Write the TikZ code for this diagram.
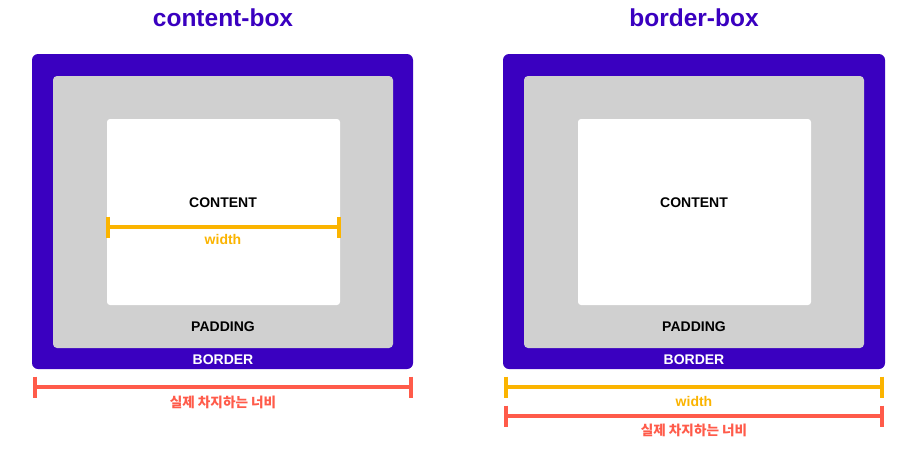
\documentclass[tikz,border=0pt]{standalone}
\usepackage{fontspec}
\setmainfont{Liberation Sans}
\newfontfamily\krfont{Noto Sans CJK KR}
\definecolor{purp}{HTML}{3A00C0}
\definecolor{padgray}{HTML}{D0D0D0}
\definecolor{wyellow}{HTML}{FBB400}
\definecolor{wred}{HTML}{FF5B4A}
\tikzset{
  borderbox/.style={fill=purp, rounded corners=6pt, inner sep=0pt},
  paddingbox/.style={fill=padgray, rounded corners=4pt, inner sep=0pt, minimum width=340pt, minimum height=272pt},
  contentbox/.style={fill=white, rounded corners=3pt, inner sep=0pt, minimum width=233pt, minimum height=186pt},
  title/.style={font=\fontsize{24.5}{28}\selectfont\bfseries, text=purp},
  lbl/.style={font=\fontsize{14}{16}\selectfont\bfseries, inner sep=0pt},
  krlbl/.style={font=\krfont\fontsize{13.6}{15}\selectfont\bfseries, text=wred, inner sep=0pt},
  measure/.style={line width=4pt}
}
\newcommand{\measurebar}[3]{%
  \draw[measure, #1] (#2) -- (#3)
    (#2) ++(0,-10.5) -- ++(0,21)
    (#3) ++(0,-10.5) -- ++(0,21);}
\begin{document}
\begin{tikzpicture}[x=1pt,y=-1pt]
\useasboundingbox[fill=white] (0,0) rectangle (898,456);
% titles
\node[title] (t1) at (223,18) {content-box};
\node[title] (t2) at (694,18) {border-box};
% left model
\node[borderbox, minimum width=381pt, minimum height=315pt] (b1) at (222.5,211.5) {};
\node[paddingbox] (p1) at (223,212) {};
\node[contentbox] (c1) at (223.5,212) {};
\node[lbl] (ct1) at (223,203) {CONTENT};
\node[lbl] (pt1) at (223,327) {PADDING};
\node[lbl, text=white] (bt1) at (223,360) {BORDER};
\coordinate (w1a) at (107.5,227);
\coordinate (w1b) at (338.5,227);
\measurebar{wyellow}{w1a}{w1b}
\node[lbl, text=wyellow] (wl1) at (223,239.5) {width};
\coordinate (r1a) at (35.3,387);
\coordinate (r1b) at (411.3,387);
\measurebar{wred}{r1a}{r1b}
\node[krlbl] (rl1) at (223,402) {실제 차지하는 너비};
% right model
\node[borderbox, minimum width=382pt, minimum height=315pt] (b2) at (694,211.5) {};
\node[paddingbox] (p2) at (694,212) {};
\node[contentbox] (c2) at (694.5,212) {};
\node[lbl] (ct2) at (694,203) {CONTENT};
\node[lbl] (pt2) at (694,327) {PADDING};
\node[lbl, text=white] (bt2) at (694,360) {BORDER};
\coordinate (w2a) at (506,387);
\coordinate (w2b) at (882,387);
\measurebar{wyellow}{w2a}{w2b}
\node[lbl, text=wyellow] (wl2) at (694,401.5) {width};
\coordinate (r2a) at (506,416);
\coordinate (r2b) at (882,416);
\measurebar{wred}{r2a}{r2b}
\node[krlbl] (rl2) at (694,430) {실제 차지하는 너비};
\end{tikzpicture}
\end{document}
